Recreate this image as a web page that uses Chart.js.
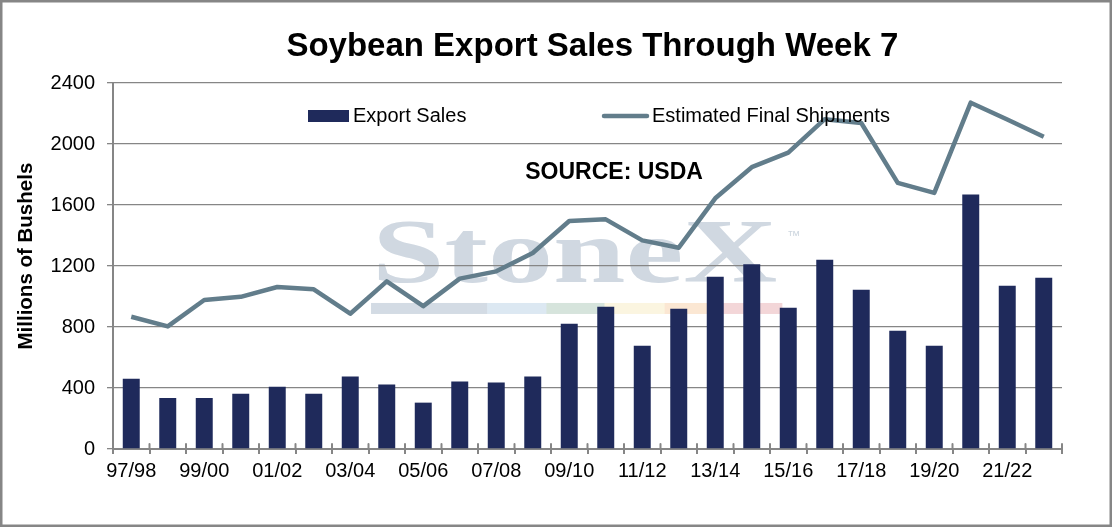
<!DOCTYPE html>
<html><head><meta charset="utf-8">
<script src="https://cdn.jsdelivr.net/npm/chart.js@4.4.1/dist/chart.umd.min.js"></script>
<style>html,body{margin:0;padding:0;background:#fff}canvas{display:block}</style>
</head><body>
<canvas id="c" width="1112" height="527"></canvas>
<script>
const seasons = ['97/98','98/99','99/00','00/01','01/02','02/03','03/04','04/05','05/06','06/07','07/08','08/09','09/10','10/11','11/12','12/13','13/14','14/15','15/16','16/17','17/18','18/19','19/20','20/21','21/22','22/23'];
const exportSales = [460,335,335,363,409,363,475,423,304,442,436,475,821,933,677,920,1130,1211,926,1241,1044,775,677,1669,1071,1123];
const finalShipments = [867,804,977,998,1062,1047,887,1099,937,1117,1165,1285,1495,1506,1368,1320,1644,1848,1944,2163,2138,1745,1679,2271,2161,2047];
const yMin = 0, yMax = 2400, yStep = 400;
const titleText = 'Soybean Export Sales Through Week 7';
const sourceNote = 'SOURCE: USDA';
const yAxisTitle = 'Millions of Bushels';
const watermarkText = 'StoneX';

const FONT = "'Liberation Sans', Arial, sans-serif";
const GRID = '#868686';

const decor = {
  id: 'decor',
  beforeDraw(chart) {
    const {ctx, chartArea: a} = chart;
    const W = a.right - a.left, H = a.bottom - a.top;
    ctx.save();
    ctx.fillStyle = '#fff';
    ctx.fillRect(0, 0, chart.width, chart.height);
    // watermark
    const x0 = a.left + W * 0.273, x1 = a.left + W * 0.70;
    const base = a.top + H * 0.545;
    ctx.font = "bold 90px 'Liberation Serif', 'Times New Roman', serif";
    ctx.fillStyle = '#d0d8e1';
    ctx.textBaseline = 'alphabetic';
    const w = ctx.measureText(watermarkText).width;
    ctx.translate(x0, base);
    ctx.scale((x1 - x0) / w, 1);
    ctx.fillText(watermarkText, 0, 0);
    ctx.restore();
    ctx.save();
    ctx.fillStyle = '#cdd6df';
    ctx.font = "13px " + FONT;
    ctx.fillText('\u2122', x1 + 10, a.top + H * 0.43);
    const segs = ['#d3dbe4','#dce8f2','#d6e4dc','#fbf5e0','#fbe7d3','#f3d6d8'];
    const bx0 = a.left + W * 0.2719, bx1 = a.left + W * 0.7048;
    const by = a.top + H * 0.601, bh = 11;
    const widths = [116, 59, 58, 60, 58, 59];
    const tot = widths.reduce((s, v) => s + v, 0);
    let cx = bx0;
    widths.forEach((v, i) => {
      const sw = (bx1 - bx0) * v / tot;
      ctx.fillStyle = segs[i];
      ctx.fillRect(cx, by, sw + 0.5, bh);
      cx += sw;
    });
    ctx.restore();
  },
  afterDraw(chart) {
    const {ctx, chartArea: a} = chart;
    const W = a.right - a.left, H = a.bottom - a.top;
    ctx.save();
    // title
    ctx.fillStyle = '#000';
    ctx.font = 'bold 33px ' + FONT;
    ctx.textAlign = 'center';
    ctx.textBaseline = 'alphabetic';
    ctx.fillText(titleText, a.left + W * 0.5051, 56);
    // y axis title
    ctx.save();
    ctx.translate(26, a.top + H * 0.473);
    ctx.rotate(-Math.PI / 2);
    ctx.font = 'bold 20.5px ' + FONT;
    ctx.textBaseline = 'middle';
    ctx.fillText(yAxisTitle, 0, 0);
    ctx.restore();
    // legend (inside plot area)
    const ds = chart.data.datasets;
    const ly = a.top + 33;
    ctx.font = '20px ' + FONT;
    ctx.textBaseline = 'middle';
    ctx.textAlign = 'left';
    const lx1 = a.left + 195;
    ctx.fillStyle = ds[0].backgroundColor;
    ctx.fillRect(lx1, ly - 6, 41, 12);
    ctx.fillStyle = '#000';
    ctx.fillText(ds[0].label, lx1 + 45, ly);
    const lx2 = a.left + 491;
    ctx.strokeStyle = ds[1].borderColor;
    ctx.lineWidth = ds[1].borderWidth;
    ctx.lineCap = 'round';
    ctx.beginPath();
    ctx.moveTo(lx2, ly); ctx.lineTo(lx2 + 43, ly); ctx.stroke();
    ctx.fillText(ds[1].label, lx2 + 48, ly);
    // source note
    ctx.font = 'bold 23px ' + FONT;
    ctx.textAlign = 'center';
    ctx.fillText(sourceNote, a.left + W * 0.528, a.top + 90);
    // x-axis tick marks crossing the axis (inner part)
    const xs = chart.scales.x;
    ctx.strokeStyle = GRID;
    ctx.lineWidth = 2;
    for (let i = 0; i <= seasons.length; i++) {
      const px = xs.getPixelForValue(i - 0.5);
      ctx.beginPath();
      ctx.moveTo(px, a.bottom);
      ctx.lineTo(px, a.bottom - 5);
      ctx.stroke();
    }
    // outer border
    ctx.lineWidth = 2.5;
    ctx.strokeRect(1.25, 1.25, chart.width - 2.5, chart.height - 2.5);
    ctx.restore();
  }
};

new Chart(document.getElementById('c'), {
  data: {
    labels: seasons,
    datasets: [
      {type: 'bar', label: 'Export Sales', data: exportSales, backgroundColor: '#1f2a5b',
       categoryPercentage: 1, barPercentage: 0.465, order: 2},
      {type: 'line', label: 'Estimated Final Shipments', data: finalShipments, borderColor: '#627d8b',
       borderWidth: 4.5, pointRadius: 0, tension: 0, fill: false, order: 1, borderJoinStyle: 'round'}
    ]
  },
  options: {
    responsive: false,
    devicePixelRatio: 1,
    animation: false,
    events: [],
    layout: {padding: {left: 0, right: 50, top: 83, bottom: 0}},
    plugins: {
      legend: {display: false},
      tooltip: {enabled: false},
      title: {display: false}
    },
    scales: {
      x: {
        offset: true,
        grid: {offset: true, drawOnChartArea: false, drawTicks: true, tickLength: 5, color: GRID, lineWidth: 2},
        border: {color: GRID, width: 2},
        ticks: {autoSkip: false, maxRotation: 0, color: '#000', padding: 5,
          font: {family: FONT, size: 20},
          callback: (v, i) => i % 2 === 0 ? seasons[i] : ''},
        afterFit: s => { s.height = 78; }
      },
      y: {
        min: yMin, max: yMax,
        grid: {color: GRID, lineWidth: 1.3, tickLength: 6},
        border: {color: GRID, width: 2},
        ticks: {stepSize: yStep, color: '#000', padding: 12, font: {family: FONT, size: 20},
          callback: v => String(v)},
        title: {display: false},
        afterFit: s => { s.width = 113; }
      }
    }
  },
  plugins: [decor]
});
</script>
</body></html>
